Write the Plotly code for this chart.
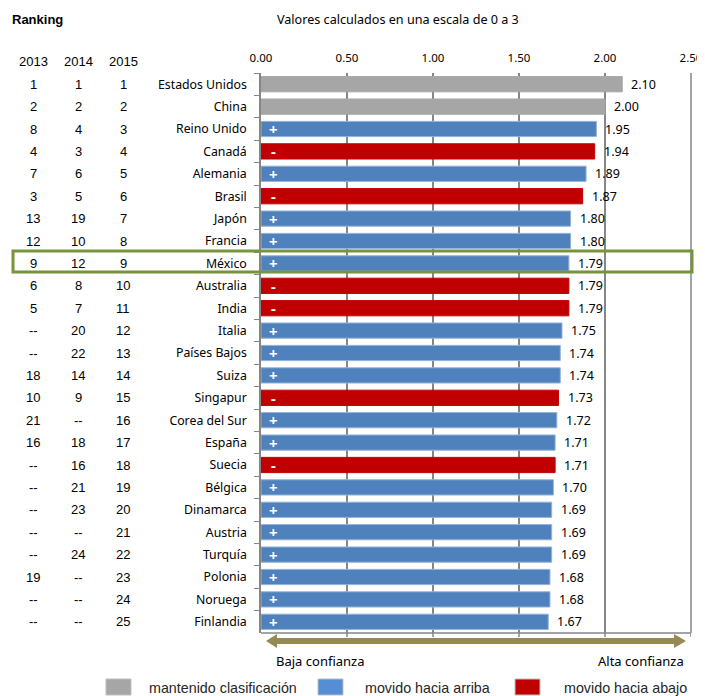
import plotly.graph_objects as go

countries = ["Estados Unidos", "China", "Reino Unido", "Canadá", "Alemania", "Brasil", "Japón",
             "Francia", "México", "Australia", "India", "Italia", "Países Bajos", "Suiza",
             "Singapur", "Corea del Sur", "España", "Suecia", "Bélgica", "Dinamarca", "Austria",
             "Turquía", "Polonia", "Noruega", "Finlandia"]
values = [2.10, 2.00, 1.95, 1.94, 1.89, 1.87, 1.80, 1.80, 1.79, 1.79, 1.79, 1.75, 1.74, 1.74,
          1.73, 1.72, 1.71, 1.71, 1.70, 1.69, 1.69, 1.69, 1.68, 1.68, 1.67]
status = ["same", "same", "up", "down", "up", "down", "up", "up", "up", "down", "down", "up", "up",
          "up", "down", "up", "up", "down", "up", "up", "up", "up", "up", "up", "up"]
r2013 = ["1", "2", "8", "4", "7", "3", "13", "12", "9", "6", "5", "--", "--", "18", "10", "21",
         "16", "--", "--", "--", "--", "--", "19", "--", "--"]
r2014 = ["1", "2", "4", "3", "6", "5", "19", "10", "12", "8", "7", "20", "22", "14", "9", "--",
         "18", "16", "21", "23", "--", "24", "--", "--", "--"]
r2015 = [str(i) for i in range(1, 26)]
years = ["2013", "2014", "2015"]

group_names = {"same": "mantenido clasificación", "up": "movido hacia arriba", "down": "movido hacia abajo"}
group_colors = {"same": "#A6A6A6", "up": "#4F81BD", "down": "#C00000"}
legend_colors = {"same": "#A6A6A6", "up": "#558ED5", "down": "#C00000"}
signs = {"same": "", "up": "+", "down": "-"}

OFF = 8  # page body margin
W, H = 705 - OFF, 696 - OFF
# plot area in screenshot pixels
X0, X1, Y0, Y1 = 261, 691, 73, 633
L, R, T, B = X0 - OFF, W - (X1 - OFF), Y0 - OFF, H - (Y1 - OFF)
PW, PH = X1 - X0, Y1 - Y0


def px(xs):
    return (xs - X0) / PW


def py(ys):
    return (Y1 - ys) / PH


fig = go.Figure()
for g in ["same", "up", "down"]:
    ys = [c for c, s in zip(countries, status) if s == g]
    xs = [v for v, s in zip(values, status) if s == g]
    fig.add_trace(go.Bar(
        y=ys, x=xs, orientation="h", name=group_names[g],
        marker=dict(color=group_colors[g],
                    line=dict(color="#95B3D7" if g == "up" else group_colors[g], width=1)),
        width=0.68, showlegend=False, hoverinfo="skip",
    ))

ann = []
shapes = []

# value labels
for c, v in zip(countries, values):
    ann.append(dict(x=v, y=c, xref="x", yref="y", text=f"{v:.2f}", showarrow=False,
                    xanchor="left", yanchor="middle", xshift=7,
                    font=dict(family="Noto Sans", size=12.5, color="#000")))

# +/- signs inside bars
for c, s in zip(countries, status):
    if signs[s]:
        ann.append(dict(x=0.07, y=c, xref="x", yref="y", text="<b>" + signs[s] + "</b>",
                        showarrow=False, xanchor="center", yanchor="middle",
                        font=dict(family="Noto Sans", size=15, color="#FFFFFF")))

col_x = [33, 78, 123]
for cx, yr in zip(col_x, years):
    ann.append(dict(x=px(cx), y=py(61), xref="paper", yref="paper", text=yr, showarrow=False,
                    xanchor="center", yanchor="middle",
                    font=dict(family="Liberation Sans", size=13, color="#000")))
for c, a, b, d in zip(countries, r2013, r2014, r2015):
    for cx, t in zip(col_x, [a, b, d]):
        ann.append(dict(x=px(cx), y=c, xref="paper", yref="y", text=t, showarrow=False,
                        xanchor="center", yanchor="middle",
                        font=dict(family="Liberation Sans", size=13, color="#000")))

ann.append(dict(x=px(10), y=py(20), xref="paper", yref="paper", text="<b>Ranking</b>",
                showarrow=False, xanchor="left", yanchor="middle",
                font=dict(family="Liberation Sans", size=13, color="#000")))
ann.append(dict(x=px(398), y=py(20), xref="paper", yref="paper",
                text="Valores calculados en una escala de 0 a 3", showarrow=False,
                xanchor="center", yanchor="middle",
                font=dict(family="Noto Sans", size=12.6, color="#000")))
ann.append(dict(x=px(274), y=py(661), xref="paper", yref="paper", text="Baja confianza",
                showarrow=False, xanchor="left", yanchor="middle",
                font=dict(family="Noto Sans", size=13, color="#000")))
ann.append(dict(x=px(686), y=py(661), xref="paper", yref="paper", text="Alta confianza",
                showarrow=False, xanchor="right", yanchor="middle",
                font=dict(family="Noto Sans", size=13, color="#000")))

# legend (manual)
leg_x = {"same": 106, "up": 318, "down": 515}
leg_tx = {"same": 147, "up": 363, "down": 562}
for g in ["same", "up", "down"]:
    x0 = leg_x[g]
    shapes.append(dict(type="rect", xref="paper", yref="paper", x0=px(x0), x1=px(x0 + 25),
                       y0=py(695), y1=py(679), fillcolor=legend_colors[g],
                       line=dict(color="#BFBFBF", width=1)))
    ann.append(dict(x=px(leg_tx[g]), y=py(688), xref="paper", yref="paper", text=group_names[g],
                    showarrow=False, xanchor="left", yanchor="middle",
                    font=dict(family="Liberation Sans", size=14.3, color="#262626")))

# bottom axis line and ticks
shapes.append(dict(type="line", xref="paper", yref="paper", x0=0, x1=1, y0=0, y1=0,
                   line=dict(color="#868686", width=1.5)))
for t in [0.5, 1.0, 1.5, 2.0, 2.5]:
    shapes.append(dict(type="line", xref="x", yref="paper", x0=t, x1=t, y0=0, y1=py(637),
                       line=dict(color="#868686", width=1.5)))
shapes.append(dict(type="line", xref="paper", yref="paper", x0=1, x1=1, y0=0, y1=1,
                   line=dict(color="#868686", width=1.5)))

# double-headed arrow
pts = [(266, 641), (277, 634), (277, 638), (674, 638), (674, 634), (686, 641), (674, 648),
       (674, 644), (277, 644), (277, 648)]
path = "M " + " L ".join(f"{px(a):.5f},{py(b):.5f}" for a, b in pts) + " Z"
shapes.append(dict(type="path", xref="paper", yref="paper", path=path,
                   fillcolor="#948A54", line=dict(width=0)))

# highlight box
shapes.append(dict(type="rect", xref="paper", yref="paper", x0=px(13), x1=px(692),
                   y0=py(272), y1=py(251), line=dict(color="#77933C", width=3),
                   fillcolor="rgba(0,0,0,0)"))

fig.update_layout(
    width=W, height=H, margin=dict(l=L, r=R, t=T, b=B, autoexpand=False), autosize=False,
    paper_bgcolor="white", plot_bgcolor="white",
    barmode="overlay",
    annotations=ann, shapes=shapes,
    xaxis=dict(range=[0, 2.5], side="top", dtick=0.5, tick0=0, tickformat=".2f",
               showgrid=True, gridcolor="#868686", gridwidth=1.5, zeroline=False,
               showline=False, ticks="", ticklabelstandoff=8, automargin=False,
               tickfont=dict(family="Noto Sans", size=11.5, color="#000")),
    yaxis=dict(categoryorder="array", categoryarray=countries,
               range=[len(countries) - 0.5, -0.5], automargin=False,
               showline=True, linecolor="#868686", linewidth=1.5, ticks="outside",
               tickson="boundaries", ticklen=5, tickcolor="#868686", showgrid=False,
               tickfont=dict(family="Noto Sans", size=12.3, color="#000"), ticklabelstandoff=10),
    font=dict(family="Noto Sans"),
)

fig.write_html("out.html")
